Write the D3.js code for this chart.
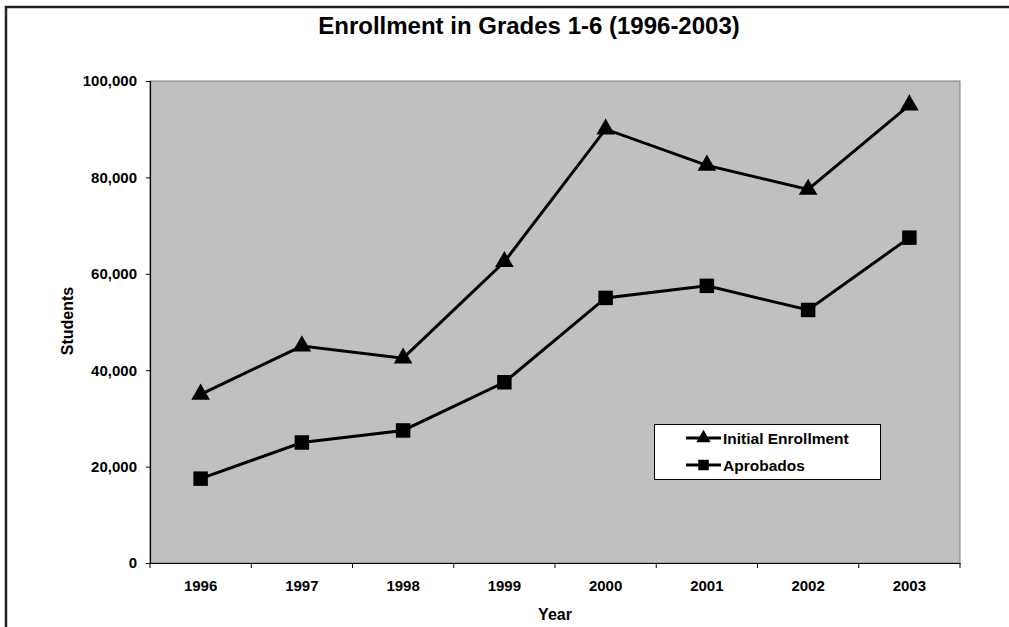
<!DOCTYPE html>
<html><head><meta charset="utf-8">
<script src="https://cdn.jsdelivr.net/npm/d3@7"></script>
<style>html,body{margin:0;background:#fff;overflow:hidden;} svg{display:block;font-family:"Liberation Sans",Arial,sans-serif;}</style>
</head><body>
<svg id="c" width="1009" height="627"></svg>
<script>
const years = ["1996","1997","1998","1999","2000","2001","2002","2003"];
const initialEnrollment = [35000,45000,42500,62500,90000,82500,77500,95000];
const aprobados = [17500,25000,27500,37500,55000,57500,52500,67500];
const yTicks = [0,20000,40000,60000,80000,100000];
const seriesNames = ["Initial Enrollment","Aprobados"];

const svg = d3.select("#c");
// outer frame (clipped)
svg.append("path").attr("d","M6,627 V7 H1009").attr("fill","none").attr("stroke","#222").attr("stroke-width",2.5);

const L=150,R=960,T=81,B=563;
const x = d3.scaleBand().domain(years).range([L,R]);
const y = d3.scaleLinear().domain([0,100000]).range([B,T]);

svg.append("rect").attr("x",L).attr("y",T).attr("width",R-L).attr("height",B-T)
  .attr("fill","#C0C0C0").attr("stroke","#808080").attr("stroke-width",1);

const yAxis = svg.append("g").attr("transform",`translate(${L},0)`)
  .call(d3.axisLeft(y).tickValues(yTicks).tickFormat(d3.format(",")).tickSize(4).tickPadding(9));
const xAxis = svg.append("g").attr("transform",`translate(0,${B})`)
  .call(d3.axisBottom(x).tickSize(0).tickPadding(17));
// x ticks at band boundaries
svg.append("g").selectAll("line").data(years.concat(["end"])).join("line")
  .attr("x1",(d,i)=>L+i*x.step()).attr("x2",(d,i)=>L+i*x.step())
  .attr("y1",B).attr("y2",B+5).attr("stroke","#000");
[yAxis,xAxis].forEach(g=>{
  g.attr("font-size",null).attr("font-family",null);
  g.selectAll("path").attr("stroke","#000").attr("stroke-width",1.2);
  g.selectAll("line").attr("stroke","#000");
  g.selectAll("text").style("font-size","15px").style("font-weight","bold").attr("fill","#000");
});

const line = d3.line().x((d,i)=>x(years[i])+x.bandwidth()/2).y(d=>y(d));
const tri = d3.symbol().type(d3.symbolTriangle).size(150);
const sq = d3.symbol().type(d3.symbolSquare).size(210);

function drawSeries(vals, sym){
  svg.append("path").datum(vals).attr("d",line).attr("fill","none").attr("stroke","#000").attr("stroke-width",3);
  svg.append("g").selectAll("path").data(vals).join("path")
    .attr("transform",(d,i)=>`translate(${x(years[i])+x.bandwidth()/2},${y(d)})`)
    .attr("d",sym).attr("fill","#000");
}
drawSeries(initialEnrollment, tri);
drawSeries(aprobados, sq);

// legend
const lg = svg.append("g");
lg.append("rect").attr("x",654.5).attr("y",424.5).attr("width",226).attr("height",55)
  .attr("fill","#fff").attr("stroke","#000").attr("stroke-width",1);
seriesNames.forEach((n,i)=>{
  const cy = 438+i*27;
  lg.append("line").attr("x1",686).attr("x2",721).attr("y1",cy).attr("y2",cy).attr("stroke","#000").attr("stroke-width",3);
  lg.append("path").attr("transform",`translate(703.5,${cy})`).attr("d",d3.symbol().type(i?d3.symbolSquare:d3.symbolTriangle).size(i?110:90)()).attr("fill","#000");
  lg.append("text").attr("x",723).attr("y",cy+6).text(n).style("font-size","15.5px").style("font-weight","bold");
});

svg.append("text").attr("x",529).attr("y",34).attr("text-anchor","middle")
  .style("font-size","24px").style("font-weight","bold").text("Enrollment in Grades 1-6 (1996-2003)");
svg.append("text").attr("x",555).attr("y",620).attr("text-anchor","middle")
  .style("font-size","16px").style("font-weight","bold").text("Year");
svg.append("text").attr("transform","translate(73,321) rotate(-90)").attr("text-anchor","middle")
  .style("font-size","16px").style("font-weight","bold").text("Students");
</script>
</body></html>
